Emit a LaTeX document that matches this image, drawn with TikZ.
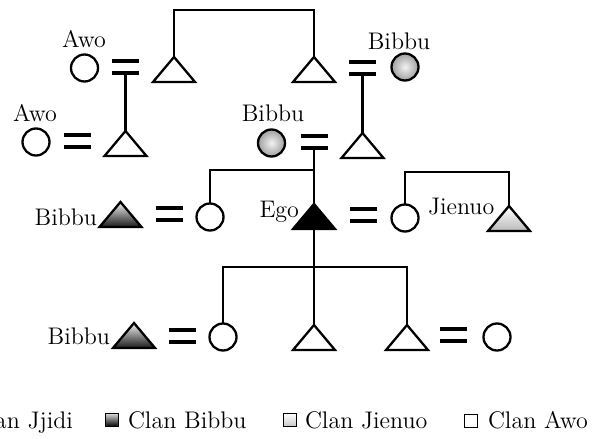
\documentclass[tikz,border=0pt]{standalone}
\usepackage{xcolor}
\usepackage{tikz}
\usetikzlibrary{shapes.geometric}

\begin{document}
\begin{tikzpicture}[
  x=0.5pt, y=-0.5pt, line width=1.15pt,
  every node/.style={font=\fontsize{12}{14}\selectfont, inner sep=0pt, outer sep=0pt},
  female/.style={draw, circle, minimum size=13.5pt},
  male/.style={draw, isosceles triangle, isosceles triangle stretches, shape border rotate=90,
               minimum width=21pt, minimum height=12.5pt, anchor=apex},
  bibbuf/.style={female, inner color=gray!10, outer color=gray!75},
  bibbum/.style={male, top color=gray!10, bottom color=black!90},
  jienuom/.style={male, top color=white, bottom color=gray!55},
  egom/.style={male, fill=black},
  bar/.style={line width=1.8pt},
  key/.style={draw, line width=0.5pt, minimum size=6.5pt}
]
  \useasboundingbox (0,0) rectangle (592,438);
  \clip (0,0) rectangle (592,438);

  % marriages: two bars, coordinate at the lower one
  \foreach \n/\x/\ya/\yb in {e1/125.5/61/73, e2/362.5/62/74, e3/77.5/135/147, e4/314/136/148,
                             e5/169/208/220, e6/363.5/209/221, e7/182/330/342, e8/453.5/329/341} {
    \draw[bar] (\x-13.5,\ya) -- (\x+13.5,\ya) (\x-13.5,\yb) -- (\x+13.5,\yb);
    \coordinate (\n) at (\x,\yb);
  }

  % first generation
  \node (w1) at (84.5,68)  [female] {};
  \node (m1) at (174,57)   [male] {};
  \node (m2) at (314,57)   [male] {};
  \node (w2) at (405,67)   [bibbuf] {};
  % second generation
  \node (w3) at (36,142)   [female] {};
  \node (m3) at (125.5,131) [male] {};
  \node (w4) at (271.5,143) [bibbuf] {};
  \node (m4) at (362.5,133) [male] {};
  % ego's generation
  \node (sish) at (120.5,202) [bibbum] {};
  \node (sis)  at (210,217)   [female] {};
  \node (ego)  at (314,204)   [egom] {};
  \node (wife) at (405,218)   [female] {};
  \node (wb)   at (509,206)   [jienuom] {};
  % children
  \node (dauh)  at (134,323) [bibbum] {};
  \node (dau)   at (223,337) [female] {};
  \node (son1)  at (314,325) [male] {};
  \node (son2)  at (407,325) [male] {};
  \node (son2w) at (497,337) [female] {};

  % descent and sibling lines
  \coordinate (sib1) at (244,10);
  \coordinate (sib2) at (314,170);
  \coordinate (sib3) at (457,172);
  \coordinate (kids) at (314,267);
  \draw (m1.apex) |- (sib1) -| (m2.apex);
  \draw (e1) -- (m3.apex);
  \draw (e2) -- (m4.apex);
  \draw (e4) -- (ego.apex);
  \draw (sis.north) |- (sib2);
  \draw (wife.north) |- (sib3) -| (wb.apex);
  \draw (ego.apex) -- (son1.apex);
  \draw (dau.north) |- (kids) -| (son2.apex);

  % clan names
  \node (l1) at (84,48)   [anchor=base] {Awo};
  \node (l2) at (35,122)  [anchor=base] {Awo};
  \node (l3) at (399,50)  [anchor=base] {Bibbu};
  \node (l4) at (273,122) [anchor=base] {Bibbu};
  \node (l5) at (97,225)  [anchor=base east] {Bibbu};
  \node (l6) at (299,217) [anchor=base east] {Ego};
  \node (l7) at (428,214) [anchor=base west] {Jienuo};
  \node (l8) at (110,344) [anchor=base east] {Bibbu};

  % key
  \node (k1) at (112,420)   [key, top color=gray!30, bottom color=black] {};
  \node (k2) at (289.5,420) [key, top color=white, bottom color=gray!45] {};
  \node (k3) at (471,421)   [key] {};
  \node (t0) at (73,428)  [anchor=base east] {Clan Jjidi};
  \node (t1) at (128,428) [anchor=base west] {Clan Bibbu};
  \node (t2) at (305,428) [anchor=base west] {Clan Jienuo};
  \node (t3) at (488,428) [anchor=base west] {Clan Awo};
\end{tikzpicture}
\end{document}
